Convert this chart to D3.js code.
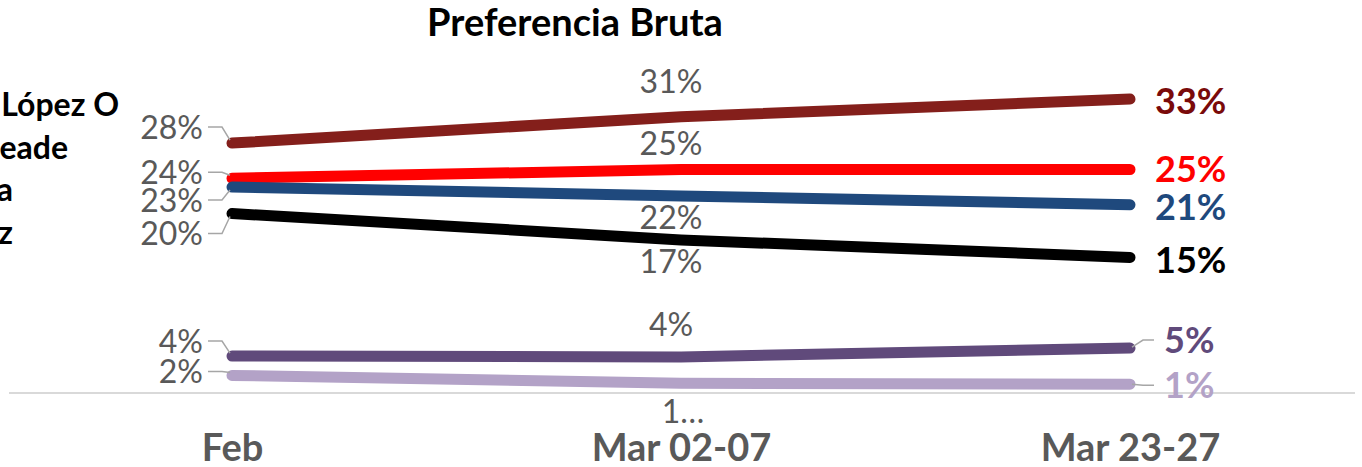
<!DOCTYPE html>
<html>
<head>
<meta charset="utf-8">
<script src="https://cdn.jsdelivr.net/npm/d3@7"></script>
<style>
  body { margin: 0; background: #fff; }
  svg { display: block; font-family: Lato, "Open Sans", sans-serif; }
</style>
</head>
<body>
<div id="chart"></div>
<script>
// data
var categories = ["Feb", "Mar 02-07", "Mar 23-27"];
var seriesNames = ["López Obrador", "Meade", "Anaya", "Rodríguez", "Zavala", "Otro"];
var lopez = [28, 31, 33];
var meade = [24, 25, 25];
var anaya = [23, 22, 21];
var rodriguez = [20, 17, 15];
var zavala = [3.8, 3.7, 4.7];
var otro = [1.6, 0.7, 0.6];
var legendLabels = ["Andrés Manuel López O", "José Antonio Meade", "Ricardo Anaya", "Jaime Rodríguez"];
var title = "Preferencia Bruta";

var colors = ["#841f1b", "#ff0000", "#1f497d", "#000000", "#604a7b", "#b3a2c7"];
var endLabelColors = ["#7a0a0a", "#ff0000", "#1f497d", "#000000", "#604a7b", "#b3a2c7"];

// label placement (px offsets from the point, Excel-style moved labels)
var leftDy = [-16, -6, 13, 20, -15, -4];
var midDy = [-35, -26, 22, 22, -32, 28];
var rightDy = [2, 0, 2, 3, -8, 1];
var legendEndX = [119, 68, 13, 13];

var width = 1362, height = 467;
var allSeries = [lopez, meade, anaya, rodriguez, zavala, otro].map(function (vals, i) {
    return { name: seriesNames[i], values: vals, color: colors[i] };
});

var svg = d3.select("#chart").append("svg")
    .attr("width", width)
    .attr("height", height);

var x = d3.scalePoint().domain(categories).range([232, 1130]);
var y = d3.scaleLinear().domain([-0.4, 35]).range([393, 81.5]);

// title
svg.append("text")
    .attr("x", 575).attr("y", 36)
    .attr("text-anchor", "middle")
    .style("font-size", "38px").style("font-weight", "bold")
    .text(title);

// legend (cut at left edge)
svg.selectAll(".legend").data(legendLabels).enter().append("text")
    .attr("class", "legend")
    .attr("x", function (d, i) { return legendEndX[i]; })
    .attr("y", function (d, i) { return 116 + i * 42.5; })
    .attr("text-anchor", "end")
    .style("font-size", "32px").style("font-weight", "bold")
    .text(function (d) { return d; });

// axis line
svg.append("line")
    .attr("x1", 9).attr("x2", 1355)
    .attr("y1", y(-0.4)).attr("y2", y(-0.4))
    .attr("stroke", "#d9d9d9").attr("stroke-width", 2);

// category labels
var xAxis = d3.axisBottom(x).tickSize(0).tickPadding(0);
var gx = svg.append("g").attr("transform", "translate(0,447)").call(xAxis);
gx.select(".domain").remove();
gx.selectAll("text")
    .attr("dy", "0.36em")
    .style("font-family", "Lato, sans-serif")
    .style("font-size", "38px").style("font-weight", "bold")
    .attr("fill", "#595959");

var line = d3.line()
    .x(function (d, i) { return x(categories[i]); })
    .y(function (d) { return y(d); });

svg.selectAll(".series").data(allSeries).enter().append("path")
    .attr("class", "series")
    .attr("d", function (d) { return line(d.values); })
    .attr("fill", "none")
    .attr("stroke", function (d) { return d.color; })
    .attr("stroke-width", 11)
    .attr("stroke-linecap", "round")
    .attr("stroke-linejoin", "round");

function fmt(v) { return Math.round(v) + "%"; }

var x0 = x(categories[0]), x1 = x(categories[1]), x2 = x(categories[2]);

// leader lines + left labels
allSeries.forEach(function (s, i) {
    var py = y(s.values[0]);
    var ly = py + leftDy[i];
    svg.append("polyline")
        .attr("points", [[208, ly], [222, ly], [x0 - 2, py + (ly < py ? -3 : 3)]].join(" "))
        .attr("fill", "none").attr("stroke", "#a6a6a6").attr("stroke-width", 1.5);
    svg.append("text")
        .attr("x", 203).attr("y", ly).attr("dy", "0.36em")
        .attr("text-anchor", "end")
        .attr("fill", "#595959").style("font-size", "32px")
        .text(fmt(s.values[0]));
});

// middle labels
allSeries.forEach(function (s, i) {
    var py = y(s.values[1]);
    var txt = fmt(s.values[1]);
    if (i === 5) txt = "1…";
    svg.append("text")
        .attr("x", i === 5 ? x1 + 2 : x1 - 10).attr("y", py + midDy[i]).attr("dy", "0.36em")
        .attr("text-anchor", "middle")
        .attr("fill", "#595959").style("font-size", "32px")
        .text(txt);
});

// right labels
allSeries.forEach(function (s, i) {
    var py = y(s.values[2]);
    var ly = py + rightDy[i];
    if (i >= 4) {
        svg.append("polyline")
            .attr("points", [[x2 + 2, py - (i === 4 ? 1 : 0)], [x2 + 13, ly], [1154, ly]].join(" "))
            .attr("fill", "none").attr("stroke", "#a6a6a6").attr("stroke-width", 1.5);
    }
    svg.append("text")
        .attr("x", i >= 4 ? 1164 : 1155).attr("y", ly).attr("dy", "0.36em")
        .attr("fill", endLabelColors[i])
        .style("font-size", "36px").style("font-weight", "bold")
        .text(fmt(s.values[2]));
});
</script>
</body>
</html>
